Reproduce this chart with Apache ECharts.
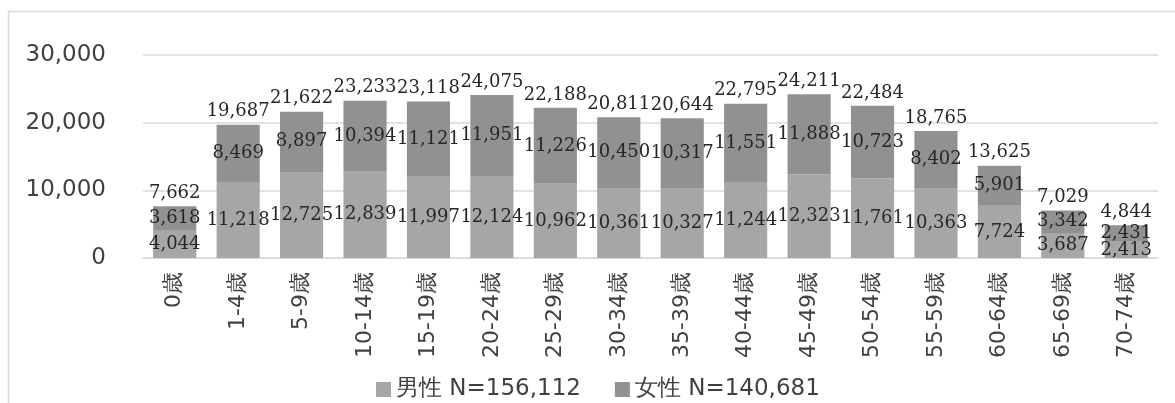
<!DOCTYPE html>
<html><head><meta charset="utf-8">
<script src="https://cdn.jsdelivr.net/npm/echarts@6/dist/echarts.min.js"></script>
<style>html,body{margin:0;padding:0;background:#fff}#c{width:1175px;height:403px}</style>
</head><body><div id="c"></div>
<script>
const categories = ['0歳','1-4歳','5-9歳','10-14歳','15-19歳','20-24歳','25-29歳','30-34歳','35-39歳','40-44歳','45-49歳','50-54歳','55-59歳','60-64歳','65-69歳','70-74歳'];
const male = [4044,11218,12725,12839,11997,12124,10962,10361,10327,11244,12323,11761,10363,7724,3687,2413];
const female = [3618,8469,8897,10394,11121,11951,11226,10450,10317,11551,11888,10723,8402,5901,3342,2431];
const totals = [7662,19687,21622,23233,23118,24075,22188,20811,20644,22795,24211,22484,18765,13625,7029,4844];
const seriesNames = ['男性 N=156,112','女性 N=140,681'];
const yTicks = [0,10000,20000,30000];

const fmt = v => v.toLocaleString('en-US');
const labelFont = {fontFamily:'DejaVu Serif', fontSize:18, color:'#262626'};
const chart = echarts.init(document.getElementById('c'));
chart.setOption({
  animation:false,
  graphic:[{type:'rect', shape:{x:8.5,y:11.5,width:1200,height:500}, style:{fill:'none', stroke:'#d9d9d9', lineWidth:1.5}, silent:true}],
  grid:{left:143, right:17, top:55, bottom:145},
  legend:{data:seriesNames, left:371, top:373, icon:'rect', itemWidth:15, itemHeight:15, itemGap:34,
    textStyle:{fontFamily:'DejaVu Sans', fontSize:23, color:'#404040'}},
  xAxis:{type:'category', data:categories,
    axisLine:{lineStyle:{color:'#d9d9d9', width:1.5}}, axisTick:{show:false},
    axisLabel:{rotate:90, margin:14, fontFamily:'DejaVu Sans', fontSize:22, color:'#404040'}},
  yAxis:{type:'value', min:yTicks[0], max:yTicks[yTicks.length-1], interval:10000,
    axisLine:{show:false}, axisTick:{show:false},
    splitLine:{lineStyle:{color:'#d9d9d9', width:1.5}},
    axisLabel:{margin:37, fontFamily:'DejaVu Sans', fontSize:23, color:'#404040', formatter:v=>fmt(v)}},
  series:[
    {name:seriesNames[0], type:'bar', stack:'a', data:male, barCategoryGap:'32%',
      itemStyle:{color:'#a6a6a9'},
      label:{show:true, position:'inside', ...labelFont, formatter:p=>fmt(p.value)}},
    {name:seriesNames[1], type:'bar', stack:'a', data:female,
      itemStyle:{color:'#919194'},
      label:{show:true, position:'inside', ...labelFont, formatter:p=>fmt(p.value)}},
    {name:'total', type:'bar', data:totals, barGap:'-100%', z:1,
      itemStyle:{color:'rgba(0,0,0,0)'}, silent:true,
      label:{show:true, position:'top', distance:4, ...labelFont, formatter:p=>fmt(p.value)}}
  ]
});
</script></body></html>
